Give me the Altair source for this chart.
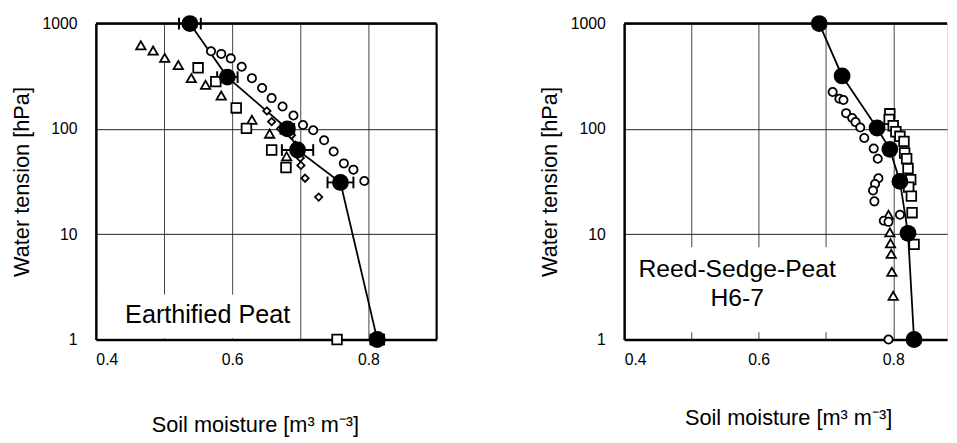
import altair as alt
import pandas as pd

FONT = "Liberation Sans"

# ---------------- Left panel: Earthified Peat ----------------
L_mean_x = [0.538, 0.593, 0.681, 0.696, 0.759, 0.813]
L_mean_y = [1000, 310, 100, 63, 31, 1]
L_mean_err = [0.016, 0.015, 0.010, 0.023, 0.019, 0.010]

L_circ_x = [0.569, 0.584, 0.598, 0.614, 0.629, 0.644, 0.658, 0.674, 0.690, 0.704,
            0.719, 0.735, 0.749, 0.764, 0.778, 0.794]
L_circ_y = [546, 515, 467, 389, 303, 244, 196, 163, 134, 109, 97, 78, 61, 47, 41, 32]

L_tri_x = [0.466, 0.484, 0.501, 0.521, 0.540, 0.561, 0.584, 0.629, 0.655, 0.680]
L_tri_y = [621, 554, 472, 403, 303, 262, 207, 122, 90, 55]

L_sq_x = [0.550, 0.576, 0.606, 0.621, 0.658, 0.679, 0.754]
L_sq_y = [380, 281, 158, 101, 63, 43, 1]

L_dia_x = [0.651, 0.658, 0.671, 0.687, 0.693, 0.700, 0.701, 0.707, 0.727]
L_dia_y = [148, 117, 100, 87, 70, 53, 45, 34, 22.5]

L_label = ["Earthified Peat"]
L_label_x = [0.564]
L_label_y = [1.70]
L_box = dict(x=[0.403], x2=[0.697], y=[1.03], y2=[2.67])

# ---------------- Right panel: Reed-Sedge-Peat H6-7 ----------------
R_mean_x = [0.690, 0.724, 0.776, 0.795, 0.810, 0.822, 0.831]
R_mean_y = [1000, 318, 102, 64, 31.7, 10.2, 1]

R_circ_x = [0.710, 0.720, 0.726, 0.730, 0.739, 0.744, 0.751, 0.757, 0.771, 0.777,
            0.778, 0.773, 0.770, 0.772, 0.786, 0.793, 0.810, 0.793]
R_circ_y = [224, 193, 188, 141, 127, 116, 103, 82, 65, 52, 34, 30, 26, 20.5, 13.4,
            13.1, 15.3, 1]

R_tri_x = [0.793, 0.795, 0.796, 0.797, 0.798, 0.800]
R_tri_y = [15.3, 10.4, 8.2, 6.5, 4.4, 2.6]

R_sq_x = [0.690, 0.795, 0.794, 0.800, 0.804, 0.810, 0.816, 0.817, 0.820, 0.822,
          0.826, 0.823, 0.827, 0.828, 0.831]
R_sq_y = [1000, 139, 123, 107, 94, 85, 76, 59, 52, 42, 33, 28, 23, 16, 8.0]

R_label = ["Reed-Sedge-Peat", "H6-7"]
R_label_x = [0.568, 0.568]
R_label_y = [4.64, 2.45]
R_box = dict(x=[0.403], x2=[0.729], y=[1.17], y2=[7.5])

X_TITLE = "Soil moisture [m³ m⁻³]"
Y_TITLE = "Water tension [hPa]"
X_TICKS = [0.4, 0.5, 0.6, 0.7, 0.8, 0.9]
Y_TICKS = [1, 10, 100, 1000]


def panel(mx, my, merr, series, box, lab, labx, laby, labsize, xmax, width, height,
          xtitle_pad, xtitle_x, right_frame):
    xticks = [v for v in X_TICKS if v <= xmax + 1e-9]
    xscale = alt.Scale(domain=[0.4, xmax], nice=False, zero=False)
    yscale = alt.Scale(type="log", domain=[1, 1000], nice=False)
    xaxis = alt.Axis(values=xticks, grid=True, gridColor="#444", gridWidth=1,
                     domainColor="black", domainWidth=2.5, ticks=False,
                     labelExpr="(round(datum.value*10) % 2 == 0 && datum.value < 0.85) ? format(datum.value, '.1f') : ''",
                     labelFontSize=16, labelPadding=12, labelColor="black",
                     title=X_TITLE, titleFontSize=22, titleFontWeight="normal",
                     titlePadding=xtitle_pad, titleColor="black",
                     titleX=xtitle_x, titleAlign="center")
    yaxis = alt.Axis(values=Y_TICKS, grid=True, gridColor="#222", gridWidth=1,
                     domainColor="black", domainWidth=2.5, ticks=False,
                     labelExpr="format(datum.value, 'd')", labelFontSize=16,
                     labelPadding=19, labelColor="black",
                     title=Y_TITLE, titleFontSize=22, titleFontWeight="normal",
                     titlePadding=9, titleColor="black")

    def X(f):
        return alt.X(f, type="quantitative", scale=xscale, axis=xaxis, title=X_TITLE)

    def Y(f):
        return alt.Y(f, type="quantitative", scale=yscale, axis=yaxis, title=Y_TITLE)

    box_df = pd.DataFrame(box)
    layers = [alt.Chart(box_df).mark_rect(fill="white", strokeWidth=0).encode(
        x=X("x:Q"), x2="x2:Q", y=Y("y:Q"), y2="y2:Q")]

    mean_df = pd.DataFrame({"x": mx, "y": my})
    layers.append(alt.Chart(mean_df).mark_line(color="black", strokeWidth=1.8).encode(
        x=X("x:Q"), y=Y("y:Q"), order=alt.Order("y:Q")))

    if merr is not None:
        e_df = pd.DataFrame({"lo": [a - e for a, e in zip(mx, merr)],
                             "hi": [a + e for a, e in zip(mx, merr)], "y": my})
        layers.append(alt.Chart(e_df).mark_rule(color="black", strokeWidth=1.8).encode(
            x=X("lo:Q"), x2="hi:Q", y=Y("y:Q")))
        for c in ["lo", "hi"]:
            layers.append(alt.Chart(e_df).mark_point(
                shape="M0,-1L0,1", size=140, stroke="black", strokeWidth=2,
                filled=False, opacity=1).encode(x=X(c + ":Q"), y=Y("y:Q")))

    for (sx, sy, shape, size) in series:
        df = pd.DataFrame({"x": sx, "y": sy})
        layers.append(alt.Chart(df).mark_point(
            shape=shape, size=size, filled=True, fill="white", stroke="black",
            strokeWidth=1.8, opacity=1).encode(x=X("x:Q"), y=Y("y:Q")))

    layers.append(alt.Chart(mean_df).mark_circle(size=290, color="black", opacity=1).encode(
        x=X("x:Q"), y=Y("y:Q")))

    t_df = pd.DataFrame({"x": labx, "y": laby, "t": lab})
    layers.append(alt.Chart(t_df).mark_text(font=FONT, fontSize=labsize, color="black",
                                             align="center", baseline="middle").encode(
        x=X("x:Q"), y=Y("y:Q"), text="t:N"))

    top_df = pd.DataFrame({"x": [0.4], "x2": [xmax], "y": [1000]})
    layers.append(alt.Chart(top_df).mark_rule(color="black", strokeWidth=2.5).encode(
        x=X("x:Q"), x2="x2:Q", y=Y("y:Q")))
    if right_frame:
        rf_df = pd.DataFrame({"x": [xmax], "y": [1], "y2": [1000]})
        layers.append(alt.Chart(rf_df).mark_rule(color="black", strokeWidth=2).encode(
            x=X("x:Q"), y=Y("y:Q"), y2="y2:Q"))

    return alt.layer(*layers).properties(width=width, height=height)


left = panel(L_mean_x, L_mean_y, L_mean_err,
             [(L_tri_x, L_tri_y, "triangle-up", 90),
              (L_sq_x, L_sq_y, "square", 95),
              (L_circ_x, L_circ_y, "circle", 70),
              (L_dia_x, L_dia_y, "diamond", 55)],
             L_box, L_label, L_label_x, L_label_y, 25.5, 0.9, 345, 320, 48, 161, True)

right = panel(R_mean_x, R_mean_y, None,
              [(R_sq_x, R_sq_y, "square", 95),
               (R_tri_x, R_tri_y, "triangle-up", 90),
               (R_circ_x, R_circ_y, "circle", 70)],
              R_box, R_label, R_label_x, R_label_y, 25, 0.88, 327, 320, 41, 166, False)

chart = alt.hconcat(left, right, spacing=100).properties(
    padding={"left": 1, "top": 2, "right": 0, "bottom": 0}
).configure_view(strokeWidth=0).configure_axis(labelFont=FONT, titleFont=FONT
).configure(background="white")

chart.save("out.html", embed_options={"renderer": "svg", "actions": False})
